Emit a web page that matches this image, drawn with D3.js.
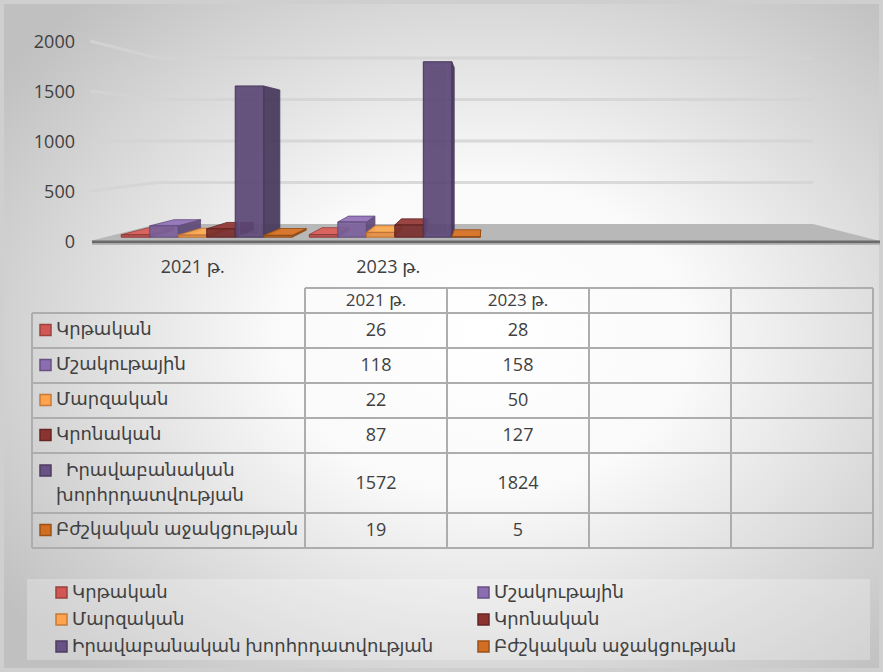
<!DOCTYPE html>
<html>
<head>
<meta charset="utf-8">
<script src="https://cdn.jsdelivr.net/npm/d3@7"></script>
<style>
  body { margin: 0; background: #fff; }
  text { font-family: "Open Sans", "DejaVu Sans", sans-serif; fill: #404040; }
</style>
</head>
<body>
<script>
// data
var categories = ["2021 թ.", "2023 թ.", "", ""];
var seriesNames = ["Կրթական", "Մշակութային", "Մարզական", "Կրոնական",
                   "Իրավաբանական խորհրդատվության", "Բժշկական աջակցության"];
var values2021 = [26, 118, 22, 87, 1572, 19];
var values2023 = [28, 158, 50, 127, 1824, 5];
var seriesColors = ["#c0504d", "#8064a2", "#f79646", "#7f2f2d", "#5f4b7a", "#c0651e"];
var yTicks = [0, 500, 1000, 1500, 2000];

// one value list per category (empty categories have no values)
var catValues = [values2021, values2023, null, null];

var w = 883;
var h = 672;

var svg = d3.select("body").append("svg")
            .attr("width", w)
            .attr("height", h);

// background gradient
var defs = svg.append("defs");
var bg = defs.append("radialGradient")
             .attr("id", "bg")
             .attr("cx", "0.55").attr("cy", "0.5").attr("r", "0.68");
bg.append("stop").attr("offset", "0").attr("stop-color", "#ffffff");
bg.append("stop").attr("offset", "0.35").attr("stop-color", "#fafafa");
bg.append("stop").attr("offset", "1").attr("stop-color", "#c0c0c0");

svg.append("rect")
   .attr("width", w).attr("height", h)
   .attr("fill", "#cfcfcf");
svg.append("rect")
   .attr("x", 4).attr("y", 4)
   .attr("width", w - 8).attr("height", h - 8)
   .attr("fill", "url(#bg)");

// 3d setup: one-point perspective
// s = how far a point is pulled toward the vanishing point (0 = front plane)
var vp = { x: 485, y: 141 };
var sFloor = 0.17;
var sBar1 = 0.038;
var sBar2 = 0.108;
var wallL = 90;
var wallR = 880;

var yFront = d3.scaleLinear().domain([0, 2000]).range([241, 41]);

var xCat = d3.scaleBand()
             .domain(d3.range(categories.length))
             .range([98, 880]);

var xSer = d3.scaleBand()
             .domain(d3.range(seriesNames.length))
             .range([0, xCat.bandwidth()])
             .paddingInner(0)
             .paddingOuter(0.3);

var proj = function(x, v, s) {
    var y = yFront(v);
    return [x + (vp.x - x) * s, y + (vp.y - y) * s];
};
var poly = function(pts) {
    return "M" + pts.map(function(p) { return p[0] + "," + p[1]; }).join("L") + "Z";
};

// gridlines on left and back walls
var grid = svg.append("g");
yTicks.filter(function(v) { return v > 0; }).forEach(function(v) {
    var a = proj(wallL, v, 0), b = proj(wallL, v, sFloor), c = proj(wallR, v, sFloor);
    grid.append("path")
        .attr("d", "M" + a + "L" + b + "L" + c)
        .attr("fill", "none")
        .attr("stroke", "#d4d4d4")
        .attr("stroke-opacity", 0.85)
        .attr("stroke-width", 3);
});

// floor
svg.append("path")
   .attr("d", poly([proj(wallL, 0, 0), proj(wallR, 0, 0),
                    proj(wallR, 0, sFloor), proj(wallL, 0, sFloor)]))
   .attr("fill", "#b8b8b8");
svg.append("line")
   .attr("x1", wallL + 2).attr("x2", wallR)
   .attr("y1", yFront(0) + 1).attr("y2", yFront(0) + 1)
   .attr("stroke", "#6a6a6a").attr("stroke-width", 3);
svg.append("line")
   .attr("x1", wallL + 2).attr("x2", wallR)
   .attr("y1", yFront(0) + 3).attr("y2", yFront(0) + 3)
   .attr("stroke", "#a8a8a8").attr("stroke-width", 1.5);

// y axis labels
svg.append("g").selectAll("text")
   .data(yTicks)
   .enter()
   .append("text")
   .attr("x", 75)
   .attr("y", function(d) { return yFront(d) + 2; })
   .attr("text-anchor", "end")
   .attr("dominant-baseline", "middle")
   .style("font-size", "18px")
   .text(function(d) { return d; });

// category labels
svg.append("g").selectAll("text")
   .data(categories)
   .enter()
   .append("text")
   .attr("x", function(d, i) { return xCat(i) + xCat.bandwidth() / 2 - 3; })
   .attr("y", 268)
   .attr("text-anchor", "middle")
   .attr("dominant-baseline", "middle")
   .style("font-size", "18px")
   .text(function(d) { return d; });

// bars
var bars = [];
catValues.forEach(function(vals, ci) {
    if (!vals) return;
    vals.forEach(function(v, si) {
        var x0 = xCat(ci) + xSer(si);
        bars.push({ x0: x0, x1: x0 + xSer.bandwidth(), v: v, si: si });
    });
});
// draw far-from-centre bars first
bars.sort(function(a, b) {
    return Math.abs((b.x0 + b.x1) / 2 - vp.x) - Math.abs((a.x0 + a.x1) / 2 - vp.x);
});

var gBars = svg.append("g");
bars.forEach(function(d) {
    var col = d3.color(seriesColors[d.si]);
    var g = gBars.append("g").attr("fill-opacity", 0.92);
    var edge = col.darker(0.8).formatHex();

    // side face
    var sx = (d.x1 < vp.x) ? d.x1 : d.x0;
    g.append("path")
     .attr("d", poly([proj(sx, 0, sBar1), proj(sx, d.v, sBar1),
                      proj(sx, d.v, sBar2), proj(sx, 0, sBar2)]))
     .attr("fill", col.darker(0.9).formatHex())
     .attr("stroke", edge).attr("stroke-width", 0.8);

    // top face, only seen below eye level
    if (yFront(d.v) > vp.y) {
        g.append("path")
         .attr("d", poly([proj(d.x0, d.v, sBar1), proj(d.x1, d.v, sBar1),
                          proj(d.x1, d.v, sBar2), proj(d.x0, d.v, sBar2)]))
         .attr("fill", col.brighter(0.35).formatHex())
         .attr("stroke", edge).attr("stroke-width", 0.8);
    }

    // front face
    g.append("path")
     .attr("d", poly([proj(d.x0, 0, sBar1), proj(d.x1, 0, sBar1),
                      proj(d.x1, d.v, sBar1), proj(d.x0, d.v, sBar1)]))
     .attr("fill", col.darker(0.15).formatHex())
     .attr("stroke", edge).attr("stroke-width", 1);

    // inner bevel line on tall bars
    if (d.v > 300) {
        var p = proj(d.x0, d.v, sBar1), q = proj(d.x1, 0, sBar1);
        g.append("rect")
         .attr("x", p[0] + 4).attr("y", p[1] + 4)
         .attr("width", q[0] - p[0] - 8).attr("height", q[1] - p[1] - 6)
         .attr("fill", "none")
         .attr("stroke", col.brighter(0.4).formatHex())
         .attr("stroke-opacity", 0.5)
         .attr("stroke-width", 1.5);
    }
});

// data table
var tLeft = 32;
var colX = [305, 447, 589, 731, 873];
var headTop = 288;
var headH = 25;
var rowH = 35;
var rowH2 = 60;
var labelX = 56;
var fs = "18px";

var gT = svg.append("g");

// measure labels to see which ones wrap
var labelLines = seriesNames.map(function(name) {
    var t = gT.append("text").style("font-size", fs).text(name);
    var len = t.node().getComputedTextLength();
    t.remove();
    if (labelX + len > colX[0] - 2) {
        return name.split(" ");
    }
    return [name];
});

var rowTops = [];
var yCur = headTop + headH;
labelLines.forEach(function(lines) {
    rowTops.push(yCur);
    yCur += lines.length > 1 ? rowH2 : rowH;
});
var tBottom = yCur;

var lineCol = "#adadad";
// header row
gT.append("line")
  .attr("x1", colX[0]).attr("x2", colX[colX.length - 1])
  .attr("y1", headTop).attr("y2", headTop);
gT.append("line")
  .attr("x1", tLeft).attr("x2", colX[colX.length - 1])
  .attr("y1", headTop + headH).attr("y2", headTop + headH);
rowTops.forEach(function(y, i) {
    var yb = (i + 1 < rowTops.length) ? rowTops[i + 1] : tBottom;
    gT.append("line")
      .attr("x1", tLeft).attr("x2", colX[colX.length - 1])
      .attr("y1", yb).attr("y2", yb);
});
gT.append("line")
  .attr("x1", tLeft).attr("x2", tLeft)
  .attr("y1", headTop + headH).attr("y2", tBottom);
colX.forEach(function(x) {
    gT.append("line")
      .attr("x1", x).attr("x2", x)
      .attr("y1", headTop).attr("y2", tBottom);
});
gT.selectAll("line")
  .attr("stroke", lineCol)
  .attr("stroke-width", 2);

// header text
categories.forEach(function(c, i) {
    gT.append("text")
      .attr("x", (colX[i] + colX[i + 1]) / 2)
      .attr("y", headTop + headH / 2 + 1)
      .attr("text-anchor", "middle")
      .attr("dominant-baseline", "middle")
      .style("font-size", "17px")
      .text(c);
});

// rows
seriesNames.forEach(function(name, si) {
    var top = rowTops[si];
    var lines = labelLines[si];
    var hh = lines.length > 1 ? rowH2 : rowH;
    var mid = top + hh / 2;
    var col = d3.color(seriesColors[si]);
    var swY = lines.length > 1 ? mid - 12 - 6 : mid - 6;
    gT.append("rect")
      .attr("x", 40).attr("y", swY)
      .attr("width", 11).attr("height", 11)
      .attr("fill", col.brighter(0.25).formatHex())
      .attr("stroke", col.darker(0.6).formatHex())
      .attr("stroke-width", 1.5);
    lines.forEach(function(ln, li) {
        gT.append("text")
          .attr("x", labelX + (lines.length > 1 && li === 0 ? 10 : 0))
          .attr("y", lines.length > 1 ? mid - 12 + li * 25 : mid)
          .attr("dominant-baseline", "middle")
          .style("font-size", fs)
          .text(ln);
    });
    catValues.forEach(function(vals, ci) {
        if (!vals) return;
        gT.append("text")
          .attr("x", (colX[ci] + colX[ci + 1]) / 2)
          .attr("y", mid + 1)
          .attr("text-anchor", "middle")
          .attr("dominant-baseline", "middle")
          .style("font-size", fs)
          .text(vals[si]);
    });
});

// legend
var gL = svg.append("g");
gL.append("rect")
  .attr("x", 27).attr("y", 579)
  .attr("width", 843).attr("height", 81)
  .attr("fill", "#ffffff").attr("fill-opacity", 0.25);
var legColX = [56, 478];
var legRowY = [593, 620, 647];
seriesNames.forEach(function(name, si) {
    var x = legColX[si % 2];
    var y = legRowY[Math.floor(si / 2)];
    var col = d3.color(seriesColors[si]);
    gL.append("rect")
      .attr("x", x).attr("y", y - 6)
      .attr("width", 11).attr("height", 11)
      .attr("fill", col.brighter(0.25).formatHex())
      .attr("stroke", col.darker(0.6).formatHex())
      .attr("stroke-width", 1.5);
    gL.append("text")
      .attr("x", x + 16)
      .attr("y", y)
      .attr("dominant-baseline", "middle")
      .style("font-size", fs)
      .text(name);
});
</script>
</body>
</html>
